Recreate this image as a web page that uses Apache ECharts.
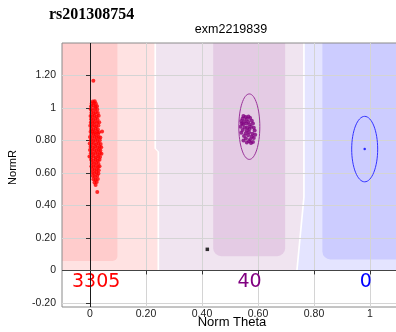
<!DOCTYPE html>
<html>
<head>
<meta charset="utf-8">
<script src="https://cdn.jsdelivr.net/npm/echarts@6/dist/echarts.min.js"></script>
<style>
  html, body { margin: 0; padding: 0; background: #fff; }
  #chart { width: 396px; height: 332px; }
</style>
</head>
<body>
<div id="chart"></div>
<script>
// SNP / probe identifiers
const snpName = 'rs201308754';
const probeName = 'exm2219839';

// axis ticks
const xTicks = [0, 0.2, 0.4, 0.6, 0.8, 1];
const yTicks = [-0.2, 0, 0.2, 0.4, 0.6, 0.8, 1, 1.2];

// genotype call regions (Norm Theta, NormR) – outer (light) polygons: AA, AB, BB
const outerZones = [
  [[-0.1, 1.4], [0.230, 1.4], [0.230, 0.75], [0.241, 0.73], [0.241, 0], [-0.1, 0]],
  [[0.236, 1.4], [0.761, 1.4], [0.761, 0.45], [0.736, 0], [0.247, 0], [0.247, 0.73], [0.236, 0.75]],
  [[0.767, 1.4], [1.1, 1.4], [1.1, 0], [0.742, 0], [0.767, 0.45]]
];
// inner (dense) regions: [theta from, theta to, lowest R]
const innerZones = [
  [-0.1, 0.098, 0.058],
  [0.440, 0.697, 0.088],
  [0.830, 1.1, 0.068]
];

// AA calls
const aaPoints = [
  [0.012, 1.167],
  [0.010, 1.040], [0.017, 1.042],
  [0.006, 1.028], [0.014, 1.031], [0.021, 1.026],
  [0.004, 1.010], [0.012, 1.013], [0.019, 1.008], [0.025, 1.011],
  [0.003, 0.992], [0.010, 0.988], [0.018, 0.994], [0.026, 0.990],
  [0.005, 0.971], [0.013, 0.968], [0.020, 0.974], [0.028, 0.969],
  [0.002, 0.951], [0.009, 0.948], [0.016, 0.953], [0.024, 0.947], [0.031, 0.952],
  [0.004, 0.931], [0.011, 0.928], [0.019, 0.934], [0.027, 0.929],
  [0.003, 0.911], [0.010, 0.908], [0.017, 0.913], [0.025, 0.909], [0.033, 0.912],
  [0.001, 0.891], [0.008, 0.888], [0.015, 0.893], [0.022, 0.887], [0.030, 0.892],
  [0.004, 0.871], [0.012, 0.868], [0.020, 0.873], [0.028, 0.869],
  [0.043, 0.856], [0.002, 0.853], [0.009, 0.857], [0.017, 0.851], [0.025, 0.855], [0.032, 0.850],
  [0.005, 0.838], [0.013, 0.842], [0.021, 0.836], [0.029, 0.840],
  [0.000, 0.821], [0.008, 0.818], [0.016, 0.823], [0.024, 0.817], [0.031, 0.822], [0.037, 0.819],
  [0.003, 0.801], [0.011, 0.798], [0.019, 0.803], [0.027, 0.797], [0.035, 0.802],
  [-0.001, 0.781], [0.006, 0.778], [0.014, 0.783], [0.022, 0.777], [0.030, 0.782], [0.038, 0.779],
  [0.002, 0.761], [0.010, 0.758], [0.018, 0.763], [0.026, 0.757], [0.034, 0.762], [0.040, 0.759],
  [0.000, 0.741], [0.007, 0.738], [0.015, 0.743], [0.023, 0.737], [0.031, 0.742], [0.037, 0.739],
  [0.003, 0.721], [0.011, 0.718], [0.019, 0.723], [0.027, 0.717], [0.035, 0.722], [0.041, 0.719],
  [-0.002, 0.701], [0.005, 0.698], [0.013, 0.703], [0.021, 0.697], [0.029, 0.702], [0.036, 0.699],
  [0.004, 0.681], [0.012, 0.678], [0.020, 0.683], [0.028, 0.677], [0.034, 0.682],
  [0.006, 0.661], [0.014, 0.658], [0.022, 0.663], [0.030, 0.657],
  [0.005, 0.641], [0.013, 0.638], [0.021, 0.643], [0.029, 0.637], [0.034, 0.642],
  [0.008, 0.621], [0.016, 0.618], [0.024, 0.623], [0.031, 0.617],
  [0.007, 0.601], [0.015, 0.598], [0.023, 0.603], [0.030, 0.597],
  [0.010, 0.581], [0.018, 0.578], [0.026, 0.583],
  [0.012, 0.561], [0.020, 0.558], [0.028, 0.563],
  [0.016, 0.541], [0.024, 0.544],
  [0.020, 0.526],
  [0.026, 0.483]
];

// AB calls
const abPoints = [
  [0.548, 0.950], [0.556, 0.945], [0.566, 0.948], [0.545, 0.935], [0.560, 0.932], [0.572, 0.938],
  [0.540, 0.920], [0.552, 0.918], [0.565, 0.915], [0.578, 0.922],
  [0.547, 0.900], [0.558, 0.905], [0.570, 0.898], [0.582, 0.905],
  [0.538, 0.885], [0.552, 0.880], [0.575, 0.885], [0.585, 0.878],
  [0.545, 0.865], [0.560, 0.862], [0.570, 0.870], [0.588, 0.862],
  [0.540, 0.848], [0.556, 0.845], [0.568, 0.850], [0.580, 0.842],
  [0.550, 0.828], [0.565, 0.832], [0.578, 0.825], [0.590, 0.835],
  [0.557, 0.812], [0.572, 0.808], [0.585, 0.815],
  [0.548, 0.800], [0.568, 0.795], [0.582, 0.790], [0.560, 0.788], [0.575, 0.785],
  [0.542, 0.905], [0.562, 0.880]
];

// no-call samples
const noCallPoints = [[0.419, 0.130]];

// cluster ellipses: [centre theta, centre R, theta radius, R radius]
const abEllipse = [0.569, 0.885, 0.0375, 0.2015];
const bbEllipse = [0.981, 0.747, 0.0464, 0.2015];

// per-genotype call counts and where they are written
const callCounts = [3305, 40, 0];
const countPositions = [[0.022, -0.070], [0.570, -0.070], [0.985, -0.070]];

const outerColors = ['#ffe2e2', '#f0e4f0', '#e4e4ff'];
const innerColors = ['#ffcccc', '#e4cbe4', '#ccccff'];
const innerRadius = [[0, 0, 5, 0], [0, 0, 8, 8], [0, 0, 0, 8]];
const countColors = ['#ff0000', '#800080', '#0000ff'];

const chart = echarts.init(document.getElementById('chart'), null, { renderer: 'canvas' });

const fmt = v => (Number.isInteger(v) ? String(v) : v.toFixed(2));
const labelFont = { fontFamily: 'Liberation Sans', fontSize: 10.5, color: '#222' };

function ellipseItem(e, color) {
  return function (params, api) {
    const c = api.coord([e[0], e[1]]);
    const s = api.size([e[2], e[3]]);
    return {
      type: 'ellipse',
      shape: { cx: c[0], cy: c[1], rx: s[0], ry: s[1] },
      style: { fill: 'none', stroke: color, lineWidth: 1 }
    };
  };
}

chart.setOption({
  animation: false,
  backgroundColor: '#fff',
  title: [
    {
      text: snpName, left: 49, top: 7, padding: 0,
      textStyle: { fontFamily: 'Liberation Serif', fontWeight: 'bold', fontSize: 16, color: '#000' }
    },
    {
      text: probeName, left: 231, top: 23, padding: 0, textAlign: 'center',
      textStyle: { fontFamily: 'Liberation Sans', fontWeight: 'normal', fontSize: 12.5, color: '#000' }
    }
  ],
  grid: {
    left: 62, top: 43, width: 336, height: 264,
    outerBoundsMode: 'none', containLabel: false,
    show: true, borderColor: '#8a8a8a', borderWidth: 1, backgroundColor: 'transparent'
  },
  xAxis: {
    type: 'value', min: -0.1, max: 1.1,
    name: 'Norm Theta', nameLocation: 'middle', nameGap: 9, nameMoveOverlap: false,
    nameTextStyle: { fontFamily: 'Liberation Sans', fontSize: 13, color: '#000', padding: [0, 0, 0, 4] },
    axisLine: { show: false },
    axisTick: { show: true, length: 4, customValues: xTicks, lineStyle: { color: '#333' } },
    axisLabel: { customValues: xTicks, formatter: fmt, margin: 2, ...labelFont },
    splitLine: { show: true, lineStyle: { color: '#d4d4d4', width: 1 } }
  },
  yAxis: {
    type: 'value', min: -0.225, max: 1.4,
    name: 'NormR', nameLocation: 'middle', nameGap: 44, nameRotate: 90, nameMoveOverlap: false,
    nameTextStyle: { fontFamily: 'Liberation Sans', fontSize: 11, color: '#000', padding: [0, 0, 0, 15] },
    axisLine: { show: false },
    axisTick: { show: true, length: 4, customValues: yTicks, lineStyle: { color: '#333' } },
    axisLabel: { customValues: yTicks, formatter: fmt, margin: 6, ...labelFont },
    splitLine: { show: true, lineStyle: { color: '#d4d4d4', width: 1 } }
  },
  series: [
    {
      // call regions
      type: 'custom', z: -1, clip: true, silent: true,
      data: outerZones.map((_, i) => [i]),
      renderItem: function (params, api) {
        const i = params.dataIndex;
        const outer = {
          type: 'polygon',
          shape: { points: outerZones[i].map(p => api.coord(p)) },
          style: { fill: outerColors[i] }
        };
        const z = innerZones[i];
        const a = api.coord([z[0], 1.4]);
        const b = api.coord([z[1], z[2]]);
        const inner = {
          type: 'rect',
          shape: { x: a[0], y: a[1], width: b[0] - a[0], height: b[1] - a[1], r: innerRadius[i] },
          style: { fill: innerColors[i] }
        };
        return { type: 'group', children: [outer, inner] };
      }
    },
    {
      // reference lines at zero
      type: 'line', data: [], z: 1, silent: true,
      markLine: {
        symbol: 'none', silent: true, label: { show: false },
        data: [
          { xAxis: 0, lineStyle: { color: '#1a1a1a', width: 1, type: 'solid' } },
          { yAxis: 0, lineStyle: { color: '#444', width: 1, type: 'solid' } }
        ]
      }
    },
    {
      name: 'AA', type: 'scatter', data: aaPoints, symbol: 'circle', symbolSize: 4,
      itemStyle: { color: '#ff0000' }, z: 3
    },
    {
      name: 'AB', type: 'scatter', data: abPoints, symbol: 'circle', symbolSize: 4,
      itemStyle: { color: '#800080' }, z: 3
    },
    {
      name: 'NC', type: 'scatter', data: noCallPoints, symbol: 'rect', symbolSize: 3.5,
      itemStyle: { color: '#000' }, z: 3
    },
    {
      name: 'BB centre', type: 'scatter', data: [[bbEllipse[0], bbEllipse[1]]], symbol: 'circle', symbolSize: 2.5,
      itemStyle: { color: '#0000ff' }, z: 3
    },
    {
      type: 'custom', z: 4, silent: true, data: [[abEllipse[0], abEllipse[1]]],
      renderItem: ellipseItem(abEllipse, '#993399')
    },
    {
      type: 'custom', z: 4, silent: true, data: [[bbEllipse[0], bbEllipse[1]]],
      renderItem: ellipseItem(bbEllipse, '#3333ff')
    },
    {
      // call counts
      type: 'custom', z: 4, silent: true,
      data: countPositions,
      renderItem: function (params, api) {
        const i = params.dataIndex;
        const p = api.coord(countPositions[i]);
        return {
          type: 'text', x: p[0], y: p[1],
          style: {
            text: String(callCounts[i]), fill: countColors[i],
            fontFamily: 'DejaVu Sans', fontSize: 19,
            align: 'center', verticalAlign: 'middle'
          }
        };
      }
    }
  ]
});
</script>
</body>
</html>
